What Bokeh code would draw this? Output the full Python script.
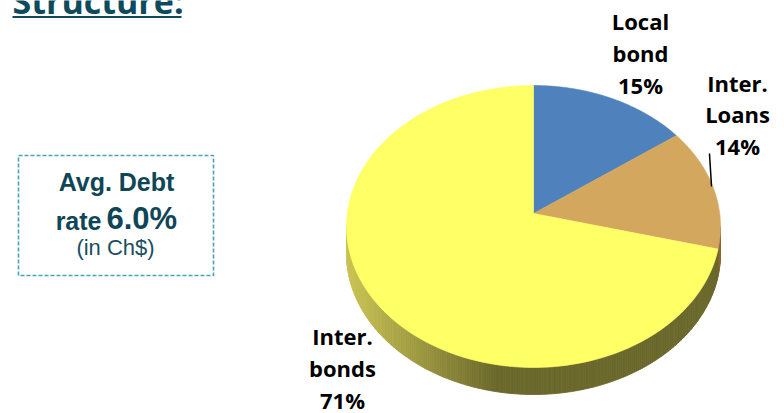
import numpy as np
from bokeh.plotting import figure
from bokeh.models import Range1d
from bokeh.core.properties import value
from bokeh.embed import file_html
from bokeh.resources import INLINE

# ---------------- data ----------------
categories = ["Local bond", "Inter. Loans", "Inter. bonds"]
shares = [15, 14, 71]
top_colors = ["#4f81bd", "#d4a75e", "#ffff66"]
side_colors = ["#2f4f78", "#8a6a35", None]  # None -> gradient olive
title_text = "Structure:"
box_line1 = "Avg. Debt"
box_rate_word = "rate"
box_rate_value = "6.0%"
box_line3 = "(in Ch$)"

# ---------------- layout constants (pixel coordinates, y down) ----------------
W, H = 784, 413
CX, CY, RX, RY = 533.0, 226.0, 187.0, 141.0
A = 0.092        # perspective shift of pie apex
DEPTH = 27.0
START = 90.0

p = figure(width=W, height=H, x_range=Range1d(0, W), y_range=Range1d(H, 0),
           output_backend="svg", toolbar_location=None, min_border=0,
           x_axis_location=None, y_axis_location=None)
p.grid.visible = False
p.outline_line_color = None
p.background_fill_color = "white"


def proj(theta_deg):
    t = np.radians(np.asarray(theta_deg, dtype=float))
    x, y = np.cos(t), np.sin(t)
    k = 1.0 + A * y
    xp = x * np.sqrt(1 - A * A) / k
    yp = (y + A) / k
    return CX + RX * xp, CY - RY * yp


total = float(sum(shares))
bounds = [0.0]
for s in shares:
    bounds.append(bounds[-1] + 360.0 * s / total)


def slice_of(theta):
    off = (START - theta) % 360.0
    for i in range(len(shares)):
        if bounds[i] <= off < bounds[i + 1]:
            return i
    return len(shares) - 1


# ---- side of the pie (visible lower part) ----
lim = np.degrees(np.arcsin(A))
thetas = np.linspace(-lim, -180 + lim, 241)
sx, sy, sc = [], [], []
XL = CX - RX
for t1, t2 in zip(thetas[:-1], thetas[1:]):
    x1, y1 = proj(t1)
    x2, y2 = proj(t2)
    i = slice_of(0.5 * (t1 + t2))
    if side_colors[i] is None:
        f = np.clip(((x1 + x2) / 2 - XL) / 150.0, 0, 1)
        c0 = np.array([203, 197, 84])
        c1 = np.array([107, 104, 44])
        c = c0 + (c1 - c0) * f
        col = "#%02x%02x%02x" % tuple(int(round(v)) for v in c)
    else:
        col = side_colors[i]
    sx.append([x1, x2, x2, x1])
    sy.append([y1, y2, y2 + DEPTH, y1 + DEPTH])
    sc.append(col)
p.patches(sx, sy, fill_color=sc, line_color=sc, line_width=0.8)

# ---- top face slices ----
ax, ay = CX, CY - RY * A
for i in range(len(shares)):
    th = np.linspace(START - bounds[i], START - bounds[i + 1], 120)
    xs, ys = proj(th)
    p.patch(np.concatenate([[ax], xs]), np.concatenate([[ay], ys]),
            fill_color=top_colors[i], line_color=top_colors[i], line_width=0.6)

# ---- slice labels (y = vertical middle of first line) ----
label_pos = [(640, 20, 32), (737, 82, 31.5), (342, 335, 32)]
for i, cat in enumerate(categories):
    lines = cat.split(" ") + ["%d%%" % shares[i]]
    lx, ly, step = label_pos[i]
    p.text(x=[lx] * len(lines), y=[ly + step * k for k in range(len(lines))], text=lines,
           text_font=value("Open Sans"), text_font_style="bold", text_font_size="22px",
           text_align="center", text_baseline="middle", text_color="black")

# leader line for Inter. Loans
p.segment(x0=[709], y0=[153], x1=[711], y1=[186], line_color="black", line_width=1.5)

# ---- title ----
p.text(x=[12], y=[0.5], text=[title_text], text_font=value("Open Sans"),
       text_font_style="bold", text_font_size="34px", text_align="left",
       text_baseline="middle", text_color="#0e4a5c")
p.segment(x0=[12], y0=[16.5], x1=[181], y1=[16.5], line_color="#0e4a5c", line_width=2.2)

# ---- dashed info box ----
p.quad(left=[18], right=[213], top=[155], bottom=[275], fill_color=None,
       line_color="#4aa2b8", line_width=1.6, line_dash="4 2")
teal = "#0f4657"
p.text(x=[116], y=[181], text=[box_line1], text_font=value("Liberation Sans"),
       text_font_style="bold", text_font_size="25px", text_align="center",
       text_baseline="middle", text_color=teal)
p.text(x=[101], y=[220], text=[box_rate_word], text_font=value("Liberation Sans"),
       text_font_style="bold", text_font_size="25px", text_align="right",
       text_baseline="middle", text_color=teal)
p.text(x=[106], y=[218], text=[box_rate_value], text_font=value("Liberation Sans"),
       text_font_style="bold", text_font_size="31px", text_align="left",
       text_baseline="middle", text_color=teal)
p.text(x=[115], y=[247], text=[box_line3], text_font=value("Liberation Sans"),
       text_font_style="normal", text_font_size="22px", text_align="center",
       text_baseline="middle", text_color="#1b4e5e")

open("out.html", "w").write(file_html(p, INLINE))
